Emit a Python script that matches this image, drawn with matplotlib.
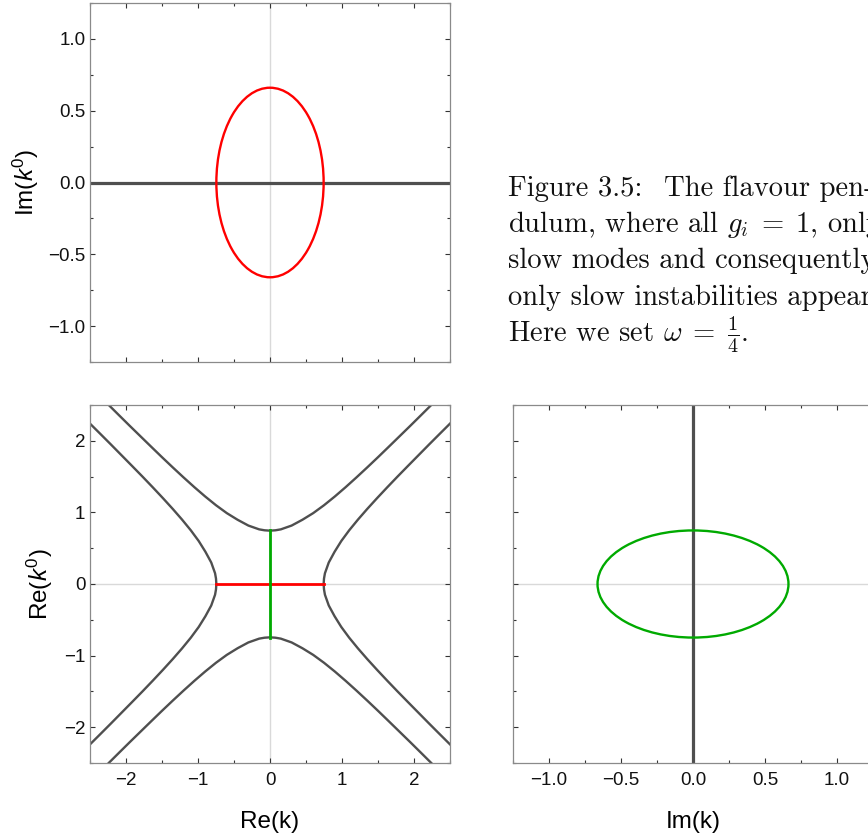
import numpy as np
import matplotlib
matplotlib.use("Agg")
import matplotlib.pyplot as plt
from matplotlib.patches import Ellipse
from matplotlib.ticker import MultipleLocator

plt.rcParams["font.family"] = ["Liberation Sans", "DejaVu Sans"]
plt.rcParams["mathtext.fontset"] = "custom"
plt.rcParams["mathtext.rm"] = "Liberation Sans"
plt.rcParams["mathtext.it"] = "Liberation Sans:italic"

# semi-axes of the unstable-mode loops
k_edge = 0.745      # |Re(k)| where the slow instability ends
k0_imag_max = 0.66  # max |Im(k0)| on the real-k branch
k_imag_max = 0.663  # max |Im(k)| on the real-k0 branch
k0_edge = 0.748     # |Re(k0)| where the imaginary-k branch closes

# real dispersion branches, first quadrant only (mirrored below)
upper_k = [0.0, 0.075, 0.15, 0.3, 0.45, 0.6, 0.75, 0.9, 1.05, 1.2, 1.35, 1.5,
           1.65, 1.8, 1.95, 2.1, 2.25]
upper_k0 = [0.745, 0.750, 0.763, 0.816, 0.897, 0.99, 1.10, 1.222, 1.352, 1.488,
            1.628, 1.771, 1.917, 2.064, 2.211, 2.36, 2.51]
side_k0 = [0.0, 0.075, 0.15, 0.3, 0.45, 0.6, 0.75, 0.9, 1.05, 1.2, 1.35, 1.5,
           1.65, 1.8, 1.95, 2.1, 2.25]
side_k = [0.745, 0.750, 0.763, 0.816, 0.897, 0.99, 1.10, 1.222, 1.352, 1.488,
          1.628, 1.771, 1.917, 2.064, 2.211, 2.36, 2.51]

caption_head = "Figure 3.5:"
caption = [
    "The flavour pen-",
    r"dulum, where all $g_i\;=\;1$, only has",
    "slow modes and consequently",
    "only slow instabilities appear.",
    r"Here we set $\omega\;=\;\frac{1}{4}$.",
]

GRAY = "#4f4f4f"
RED = "#ff0000"
GREEN = "#00aa00"
AXLINE = "#d9d9d9"

W, H = 868, 839
fig = plt.figure(figsize=(W / 100, H / 100), dpi=100)


def box(x0, y0, x1, y1):
    return [x0 / W, 1 - y1 / H, (x1 - x0) / W, (y1 - y0) / H]


ax_top = fig.add_axes(box(90, 3, 450, 362))
ax_re = fig.add_axes(box(90, 405, 450, 763))
ax_im = fig.add_axes(box(513, 405, 873, 763))


def style(ax, xmaj, xmin, ymaj, ymin):
    ax.xaxis.set_major_locator(MultipleLocator(xmaj))
    ax.xaxis.set_minor_locator(MultipleLocator(xmin))
    ax.yaxis.set_major_locator(MultipleLocator(ymaj))
    ax.yaxis.set_minor_locator(MultipleLocator(ymin))
    ax.tick_params(which="both", direction="in", top=True, right=True,
                   color="#333333", width=0.8, labelsize=13.5, labelcolor="#111111")
    ax.tick_params(which="major", length=3.8)
    ax.tick_params(which="minor", length=2.2)
    ax.tick_params(axis="x", pad=6.5)
    ax.tick_params(axis="y", pad=3.4)
    for s in ax.spines.values():
        s.set_color("#8a8a8a")
        s.set_linewidth(0.9)


def mirror(a):
    a = np.asarray(a)
    return np.r_[-a[::-1], a[1:]]


def repeat(a):
    a = np.asarray(a)
    return np.r_[a[::-1], a[1:]]


# Im(k0) against Re(k)
ax = ax_top
ax.axvline(0, color=AXLINE, lw=1.0, zorder=1)
ax.axhline(0, color=GRAY, lw=2.3, zorder=2)
ax.add_patch(Ellipse((0, 0), 2 * k_edge, 2 * k0_imag_max, fill=False,
                     edgecolor=RED, lw=1.7, zorder=3))
ax.set_xlim(-2.5, 2.5)
ax.set_ylim(-1.25, 1.25)
style(ax, 1, 0.5, 0.5, 0.25)
ax.tick_params(labelbottom=False)
ax.set_ylabel("Im($k^0$)", fontsize=17.5)
ax.yaxis.set_label_coords(-0.136, 0.5)

# Re(k0) against Re(k)
ax = ax_re
ax.axvline(0, color=AXLINE, lw=1.0, zorder=1)
ax.axhline(0, color=AXLINE, lw=1.0, zorder=1)
uk, uk0 = mirror(upper_k), repeat(upper_k0)
sk0, sk = mirror(side_k0), repeat(side_k)
for sgn in (1, -1):
    ax.plot(uk, sgn * uk0, color=GRAY, lw=1.7, zorder=2, solid_joinstyle="round")
    ax.plot(sgn * sk, sk0, color=GRAY, lw=1.7, zorder=2, solid_joinstyle="round")
ax.plot([-k_edge, k_edge], [0, 0], color=RED, lw=2.0, zorder=3)
ax.plot([0, 0], [-k0_edge, k0_edge], color=GREEN, lw=2.0, zorder=4)
ax.set_xlim(-2.5, 2.5)
ax.set_ylim(-2.5, 2.5)
style(ax, 1, 0.5, 1, 0.5)
ax.set_ylabel("Re($k^0$)", fontsize=17.5)
ax.yaxis.set_label_coords(-0.096, 0.5)
ax.set_xlabel("Re(k)", fontsize=17.5)
ax.xaxis.set_label_coords(0.5, -0.135)

# Re(k0) against Im(k)
ax = ax_im
ax.axhline(0, color=AXLINE, lw=1.0, zorder=1)
ax.axvline(0, color=GRAY, lw=2.3, zorder=2)
ax.add_patch(Ellipse((0, 0), 2 * k_imag_max, 2 * k0_edge, fill=False,
                     edgecolor=GREEN, lw=1.7, zorder=3))
ax.set_xlim(-1.25, 1.25)
ax.set_ylim(-2.5, 2.5)
style(ax, 0.5, 0.25, 1, 0.5)
ax.tick_params(labelleft=False)
ax.set_xlabel("Im(k)", fontsize=17.5)
ax.xaxis.set_label_coords(0.5, -0.135)

# caption block, first line justified a little wider
cap_kw = dict(fontfamily="cmr10", math_fontfamily="cm", fontsize=20.6,
              va="baseline", ha="left", color="#111111")
baselines = [195.5, 232, 268.5, 305, 341]
fig.text(508 / W, 1 - baselines[0] / H, caption_head, **cap_kw)
starts = [664, 508, 508, 508, 508]
for line, x0, yb in zip(caption, starts, baselines):
    fig.text(x0 / W, 1 - yb / H, line, **cap_kw)

fig.savefig("out.png", dpi=100)
